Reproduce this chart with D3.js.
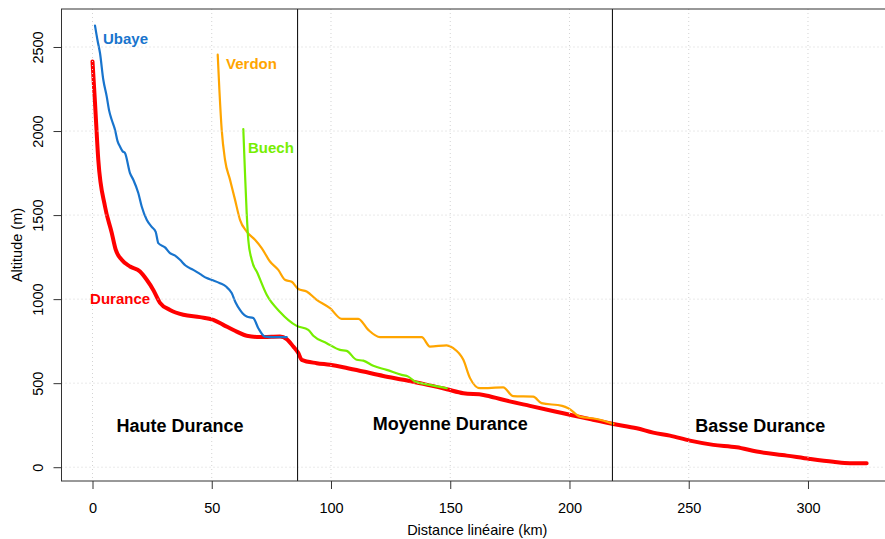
<!DOCTYPE html>
<html><head><meta charset="utf-8">
<script src="https://cdn.jsdelivr.net/npm/d3@7"></script>
<style>body{margin:0;background:#fff}svg{display:block;font-family:"Liberation Sans",Arial,sans-serif}</style>
</head><body>
<svg id="c" width="885" height="539"></svg>
<script>
// ---- data (km, altitude m) ----
const durance = [[0,2414],[1.05,2168],[2.43,1829],[5.24,1551],[8.05,1395],[9.73,1294],[12.24,1234],[15.72,1194],[19.92,1164],[22.73,1115],[25.49,1055],[28.3,978],[32.49,936],[38.07,907],[45.07,893],[50.65,877],[54.84,847],[60.46,807],[64.65,782],[70.23,774],[75,776],[78.62,777],[81.43,762],[84.19,718],[86.29,679],[87.71,639],[94,619],[99.58,609],[105.16,595],[113.54,569],[121.93,543],[130.31,520],[138.7,496],[148.5,464],[155.5,440],[163.9,430],[172.2,401],[183.4,365],[197.4,321],[208.6,286],[218.4,257],[228.2,232],[235.1,206],[242.1,188],[250.5,158],[260.3,133],[270.1,119],[278.5,93],[291.1,69],[300.8,49],[310.6,32],[317.6,24],[324.6,24]];
const ubaye = [[1.05,2627],[2.1,2540],[3.14,2464],[4.53,2305],[5.95,2206],[7,2120],[8.05,2067],[9.43,2008],[10.5,1940],[11.53,1908],[12.6,1880],[13.63,1869],[15.72,1750],[17.11,1710],[19.2,1631],[20.63,1551],[22.73,1472],[24.82,1430],[26.5,1400],[27.59,1333],[30.4,1308],[32.49,1274],[34.5,1260],[36.69,1234],[39,1200],[42.26,1174],[45,1150],[47.88,1125],[50.5,1112],[53.46,1095],[56,1075],[58.36,1036],[60,980],[61.84,936],[63,915],[64.65,896],[67.42,887],[69.52,827],[72.33,777],[75.81,774],[81.43,774]];
const verdon = [[52.5,2454],[53.2,2246],[54.17,2008],[55.56,1829],[57.65,1711],[59.75,1592],[61.84,1472],[64.65,1402],[68.13,1353],[70.94,1304],[74.42,1224],[77.9,1174],[80.71,1115],[83.52,1103],[86.29,1060],[89.8,1045],[94,996],[99.58,946],[104.49,883],[111.45,883],[115.64,817],[120.55,774],[138.03,774],[141.51,718],[148.5,725],[151.3,708],[155.5,639],[158.3,530],[162.5,470],[172.2,475],[176.4,423],[184.8,420],[188.3,381],[196.9,365],[199.5,351],[204.4,301],[211.4,287],[218.4,258]];
const buech = [[63.23,2012],[63.94,1750],[64.65,1512],[65.32,1353],[66.75,1234],[69.2,1154],[73.04,1026],[78.62,924],[85.62,841],[90.48,817],[92.58,782],[98.2,738],[103.77,698],[106.58,692],[110.78,639],[113.54,634],[117.74,603],[123.35,579],[129.65,549],[132.41,539],[135.22,510],[141.51,490],[148.5,470]];
const xTicks = [0,50,100,150,200,250,300];
const yTicks = [0,500,1000,1500,2000,2500];
const sectionBounds = [86, 218];
const sectionNames = ["Haute Durance","Moyenne Durance","Basse Durance"];
const sectionLabelPos = [[36.7,246],[150,258],[280,246]];
const seriesNames = ["Durance","Ubaye","Verdon","Buech"];
const seriesLabelPos = [[-1,1000],[4.4,2549],[56,2400],[65.2,1900]];

// ---- chart ----
const svg = d3.select("#c");
const L = 61.5, R = 898.6, T = 9, B = 481;
const x = d3.scaleLinear().domain([-13, 338]).range([L, R]);
const y = d3.scaleLinear().domain([-82, 2726]).range([B, T]);

const series = [
  {data: durance, color: "#ff0000", w: 4},
  {data: ubaye, color: "#1874cd", w: 2.2},
  {data: verdon, color: "#ffa500", w: 2.2},
  {data: buech, color: "#76ee00", w: 2.2}
];
const line = d3.line().x(d => x(d[0])).y(d => y(d[1])).curve(d3.curveMonotoneX);

const g = svg.append("g");
series.forEach(s => {
  g.append("path").attr("d", line(s.data)).attr("fill", "none")
    .attr("stroke", s.color).attr("stroke-width", s.w)
    .attr("stroke-linejoin", "round").attr("stroke-linecap", "round");
});

// grid (drawn over lines as in original)
g.selectAll(".gx").data(xTicks).join("line")
  .attr("x1", d => x(d)).attr("x2", d => x(d)).attr("y1", T).attr("y2", B)
  .attr("stroke", "#d3d3d3").attr("stroke-width", 1).attr("stroke-dasharray", "1,3");
g.selectAll(".gy").data(yTicks).join("line")
  .attr("x1", L).attr("x2", R).attr("y1", d => y(d)).attr("y2", d => y(d))
  .attr("stroke", "#d3d3d3").attr("stroke-width", 1).attr("stroke-dasharray", "1,3");

// section boundaries
g.selectAll(".vb").data(sectionBounds).join("line")
  .attr("x1", d => x(d)).attr("x2", d => x(d)).attr("y1", T).attr("y2", B)
  .attr("stroke", "#000").attr("stroke-width", 1);

// box
svg.append("rect").attr("x", L).attr("y", T).attr("width", R - L).attr("height", B - T)
  .attr("fill", "none").attr("stroke", "#333").attr("stroke-width", 1);

// axes
const xa = svg.append("g").attr("transform", `translate(0,${B})`)
  .call(d3.axisBottom(x).tickValues(xTicks).tickSize(8).tickPadding(14).tickFormat(d3.format("d")));
xa.select(".domain").remove();
xa.selectAll("line").attr("stroke", "#333");
xa.selectAll("text").attr("font-size", "14.5px").attr("fill", "#000").attr("font-family", "Liberation Sans, Arial, sans-serif");

const ya = svg.append("g").attr("transform", `translate(${L},0)`)
  .call(d3.axisLeft(y).tickValues(yTicks).tickSize(8).tickFormat(d3.format("d")));
ya.select(".domain").remove();
ya.selectAll("line").attr("stroke", "#333");
ya.selectAll("text").remove();
ya.selectAll(".tick").append("text")
  .attr("transform", "translate(-19,0) rotate(-90)")
  .attr("text-anchor", "middle").attr("dy", "0")
  .attr("font-size", "14.5px").attr("fill", "#000")
  .attr("font-family", "Liberation Sans, Arial, sans-serif")
  .text(d => d);

// axis titles
svg.append("text").attr("x", (L + 885) / 2 + 4).attr("y", 535)
  .attr("text-anchor", "middle").attr("font-size", "14.5px").text("Distance linéaire (km)");
svg.append("text").attr("transform", `translate(22,${(T + B) / 2}) rotate(-90)`)
  .attr("text-anchor", "middle").attr("font-size", "14.5px").text("Altitude (m)");

// series labels
svg.selectAll(".sl").data(seriesNames).join("text")
  .attr("x", (d, i) => x(seriesLabelPos[i][0]))
  .attr("y", (d, i) => y(seriesLabelPos[i][1]))
  .attr("dy", "0.35em").attr("font-size", "15px").attr("font-weight", "bold")
  .attr("fill", (d, i) => series[i].color).text(d => d);

// section labels
svg.selectAll(".secl").data(sectionNames).join("text")
  .attr("x", (d, i) => x(sectionLabelPos[i][0]))
  .attr("y", (d, i) => y(sectionLabelPos[i][1]))
  .attr("dy", "0.35em").attr("text-anchor", "middle")
  .attr("font-size", "18px").attr("font-weight", "bold").attr("fill", "#000").text(d => d);
</script>
</body></html>
